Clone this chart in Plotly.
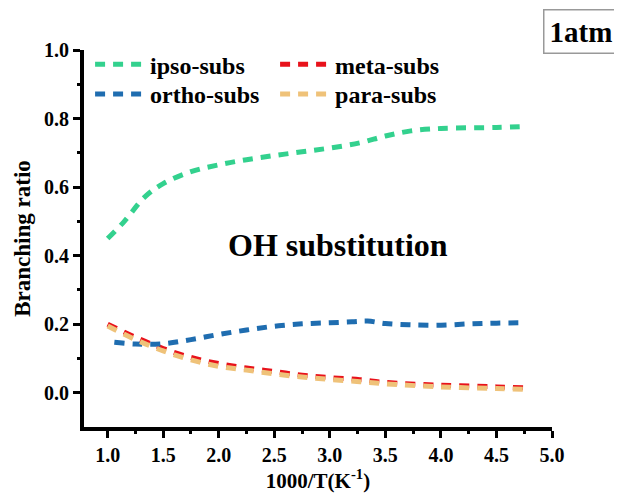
import plotly.graph_objects as go

x_ipso = [1.0, 1.15, 1.33, 1.5, 1.75, 2.0, 2.25, 2.5, 2.75, 3.0, 3.27, 3.5, 3.73, 4.0, 4.5, 4.76]
y_ipso = [0.45, 0.50, 0.57, 0.61, 0.645, 0.665, 0.68, 0.692, 0.703, 0.714, 0.729, 0.749, 0.764, 0.771, 0.774, 0.777]

x_ortho = [1.06, 1.25, 1.5, 1.75, 2.0, 2.25, 2.5, 2.75, 3.0, 3.2, 3.34, 3.5, 3.73, 4.0, 4.26, 4.5, 4.76]
y_ortho = [0.147, 0.142, 0.143, 0.155, 0.17, 0.183, 0.194, 0.201, 0.204, 0.207, 0.209, 0.202, 0.198, 0.197, 0.201, 0.203, 0.204]

x_meta = [1.0, 1.25, 1.5, 1.75, 2.0, 2.25, 2.5, 2.75, 3.0, 3.27, 3.5, 4.0, 4.5, 4.76]
y_meta = [0.2, 0.162, 0.129, 0.103, 0.085, 0.072, 0.062, 0.051, 0.044, 0.038, 0.03, 0.022, 0.017, 0.014]

x_para = [1.0, 1.25, 1.5, 1.75, 2.0, 2.25, 2.5, 2.75, 3.0, 3.27, 3.5, 4.0, 4.5, 4.76]
y_para = [0.195, 0.155, 0.122, 0.096, 0.077, 0.066, 0.055, 0.046, 0.039, 0.032, 0.026, 0.017, 0.012, 0.01]

x_ticks = [1.0, 1.5, 2.0, 2.5, 3.0, 3.5, 4.0, 4.5, 5.0]
x_minor = [1.25, 1.75, 2.25, 2.75, 3.25, 3.75, 4.25, 4.75]
y_ticks = [0.0, 0.2, 0.4, 0.6, 0.8, 1.0]
y_minor = [0.1, 0.3, 0.5, 0.7, 0.9]

FONT = "Liberation Serif"

fig = go.Figure()
series = [
    ("ipso-subs", x_ipso, y_ipso, "#33d18e", "legend"),
    ("meta-subs", x_meta, y_meta, "#e8121b", "legend"),
    ("ortho-subs", x_ortho, y_ortho, "#1f6db0", "legend2"),
    ("para-subs", x_para, y_para, "#efc279", "legend2"),
]
for name, xs, ys, col, lg in series:
    fig.add_trace(go.Scatter(x=xs, y=ys, name=name, mode="lines", line_shape="spline", legend=lg,
                             line=dict(color=col, width=5, dash="10px,8px")))

fig.add_annotation(x=3.07, y=0.43, xref="x", yref="y", text="OH substitution", showarrow=False,
                   font=dict(family=FONT, size=32, color="black", weight="bold"))
fig.add_annotation(x=1.063, y=1.05, xref="paper", yref="paper", yanchor="middle", xanchor="center",
                   text="1atm", showarrow=False, bordercolor="#999999", borderwidth=1.5, borderpad=5,
                   font=dict(family=FONT, size=29, color="black", weight="bold"))

legend_common = dict(orientation="h", x=0.013, xanchor="left", yanchor="top",
                     entrywidth=120, itemwidth=50, traceorder="normal", bgcolor="rgba(0,0,0,0)",
                     font=dict(family=FONT, size=24, color="black", weight="bold"))

fig.update_layout(
    width=622, height=494,
    margin=dict(l=70, r=78, t=42, b=75),
    plot_bgcolor="white", paper_bgcolor="white",
    font=dict(family=FONT, size=20, color="black", weight="bold"),
    legend=dict(y=1.021, **legend_common),
    legend2=dict(y=0.942, **legend_common),
    showlegend=True,
)
fig.update_xaxes(range=[0.787, 5.0], tickvals=x_ticks,
                 tickformat=".1f", showline=True, linecolor="black", linewidth=4,
                 ticks="outside", ticklen=7, tickwidth=3, tickcolor="black", showgrid=False, zeroline=False,
                 minor=dict(tickvals=x_minor, ticks="outside", ticklen=3, tickwidth=3, tickcolor="black"),
                 title=dict(text="1000/T(K<sup>-1</sup>)", font=dict(family=FONT, size=21, weight="bold"), standoff=3))
fig.update_yaxes(range=[-0.1, 1.0], tickvals=y_ticks, tickformat=".1f",
                 showline=True, linecolor="black", linewidth=4,
                 ticks="outside", ticklen=7, tickwidth=3, tickcolor="black", showgrid=False, zeroline=False,
                 minor=dict(tickvals=y_minor, ticks="outside", ticklen=3, tickwidth=3, tickcolor="black"),
                 title=dict(text="Branching ratio", font=dict(family=FONT, size=23, weight="bold"), standoff=8))

fig.write_html("out.html")
